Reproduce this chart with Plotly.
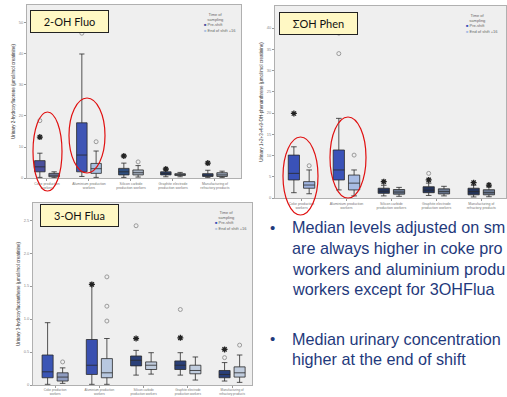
import plotly.graph_objects as go

W, H = 507, 397

CATEGORIES = ["Coke production<br>workers", "Aluminium production<br>workers",
              "Silicon carbide<br>production workers", "Graphite electrode<br>production workers",
              "Manufacturing of<br>refractory products"]
SERIES = ["Pre-shift", "End of shift +16"]

# ---- Panel 1 : 2-OH Fluo ----
F_PRE_Q1 = [0.20, 0.20, 0.10, 0.10, 0.05]
F_PRE_MED = [0.36, 0.74, 0.20, 0.15, 0.09]
F_PRE_Q3 = [0.56, 1.78, 0.31, 0.20, 0.14]
F_PRE_LO = [0.02, 0.05, 0.02, 0.04, 0.02]
F_PRE_HI = [0.80, 4.00, 0.48, 0.26, 0.25]
F_POST_Q1 = [0.04, 0.15, 0.10, 0.08, 0.05]
F_POST_MED = [0.09, 0.30, 0.17, 0.11, 0.10]
F_POST_Q3 = [0.15, 0.47, 0.26, 0.14, 0.17]
F_POST_LO = [0.01, 0.02, 0.03, 0.04, 0.02]
F_POST_HI = [0.20, 0.87, 0.40, 0.18, 0.22]
F_PRE_OUT = [[1.85], [4.67], [], [], []]
F_PRE_EXT = [[1.32], [], [0.71], [0.29], [0.48]]
F_POST_OUT = [[], [1.17], [0.52], [], []]
F_POST_EXT = [[], [], [], [], []]
F_TICKS = [0, 1, 2, 3, 4, 5]
F_TICKTEXT = ["0", "10", "20", "30", "40", "50"]

# ---- Panel 2 : sum OH Phen ----
P_PRE_Q1 = [0.85, 0.85, 0.22, 0.25, 0.15]
P_PRE_MED = [1.16, 1.32, 0.32, 0.37, 0.30]
P_PRE_Q3 = [2.02, 2.26, 0.46, 0.53, 0.46]
P_PRE_LO = [0.25, 0.38, 0.10, 0.12, 0.05]
P_PRE_HI = [2.41, 3.75, 0.60, 0.70, 0.60]
P_POST_Q1 = [0.46, 0.38, 0.18, 0.19, 0.15]
P_POST_MED = [0.61, 0.70, 0.28, 0.30, 0.25]
P_POST_Q3 = [0.77, 1.08, 0.40, 0.43, 0.39]
P_POST_LO = [0.20, 0.10, 0.08, 0.10, 0.06]
P_POST_HI = [1.32, 1.32, 0.50, 0.55, 0.52]
P_PRE_OUT = [[], [6.8, 7.76], [], [1.16], []]
P_PRE_EXT = [[3.98], [], [0.77], [0.85], [0.72]]
P_POST_OUT = [[1.52], [2.02], [], [], []]
P_POST_EXT = [[], [], [], [], [0.61]]
P_TICKS = [0, 1, 2, 3, 4, 5, 6, 7, 8]
P_TICKTEXT = ["0", "5", "10", "15", "20", "25", "30", "35", "40"]

# ---- Panel 3 : 3-OH Flua ----
A_PRE_Q1 = [0.22, 0.32, 0.58, 0.47, 0.22]
A_PRE_MED = [0.40, 0.60, 0.75, 0.60, 0.32]
A_PRE_Q3 = [0.91, 1.38, 0.88, 0.73, 0.44]
A_PRE_LO = [0.02, 0.02, 0.30, 0.30, 0.12]
A_PRE_HI = [1.89, 3.05, 1.05, 0.98, 0.68]
A_POST_Q1 = [0.12, 0.22, 0.47, 0.34, 0.24]
A_POST_MED = [0.24, 0.37, 0.60, 0.44, 0.37]
A_POST_Q3 = [0.37, 0.80, 0.70, 0.60, 0.55]
A_POST_LO = [0.05, 0.02, 0.33, 0.15, 0.08]
A_POST_HI = [0.52, 1.41, 0.98, 0.85, 0.91]
A_PRE_OUT = [[], [], [4.83], [2.29], [0.83]]
A_PRE_EXT = [[], [3.05], [1.41], [1.43], [1.08]]
A_POST_OUT = [[0.70], [1.94, 2.39, 3.28], [], [], [1.21]]
A_POST_EXT = [[], [], [], [], []]
A_TICKS = [0, 1, 2, 3, 4, 5]
A_TICKTEXT = ["0", "0.5", "1.0", "1.5", "2.0", "2.5"]

TITLES = ["2-OH Fluo", "ΣOH Phen", "3-OH Flua"]
YTITLES = ["Urinary 2-hydroxyfluorene (µmol/mol creatinine)",
           "Urinary 1+2+3+4+9-OH-phenanthrene (µmol/mol creatinine)",
           "Urinary 3-hydroxyfluoranthene (µmol/mol creatinine)"]
# slide text as visible in the picture (it runs off the right edge there)
BULLET1 = ["Median levels adjusted on sm",
           "are always higher in coke pro",
           "workers and aluminium produ",
           "workers except for 3OHFlua"]
BULLET2 = ["Median urinary concentration",
           "higher at the end of shift"]

# ---------------- styling ----------------
PRE_COLORS = [["#4a4f9c", "#3f55b5", "#2f4f80", "#2c4270", "#2c4270"],
              ["#3a52b8", "#3a52b8", "#24345a", "#24345a", "#24345a"],
              ["#3a55b5", "#3a50b0", "#2a3f78", "#2a3f78", "#2a3f78"]]
POST_COLORS = [["#7d86a8", "#a8c0e0", "#a8b4c4", "#98a4b8", "#98a4b8"],
               ["#a0b4e0", "#a8bce4", "#6a7890", "#6a7890", "#6a7890"],
               ["#8f9cc0", "#b8c8e0", "#c0ccdd", "#c0ccdd", "#c0ccdd"]]
OFF, BW = 0.17, 0.25
TXT_COLOR = "#1f3a7c"


def X(px):
    return px / W


def Y(py):
    return 1 - py / H


panels = [
    dict(pre=(F_PRE_Q1, F_PRE_MED, F_PRE_Q3, F_PRE_LO, F_PRE_HI),
         post=(F_POST_Q1, F_POST_MED, F_POST_Q3, F_POST_LO, F_POST_HI),
         pre_out=F_PRE_OUT, pre_ext=F_PRE_EXT, post_out=F_POST_OUT, post_ext=F_POST_EXT,
         ticks=F_TICKS, ticktext=F_TICKTEXT, labsize=3.5,
         xd=(27, 241), yd=(5, 178), xr=(-0.476, 4.62), yr=(0, 5.58)),
    dict(pre=(P_PRE_Q1, P_PRE_MED, P_PRE_Q3, P_PRE_LO, P_PRE_HI),
         post=(P_POST_Q1, P_POST_MED, P_POST_Q3, P_POST_LO, P_POST_HI),
         pre_out=P_PRE_OUT, pre_ext=P_PRE_EXT, post_out=P_POST_OUT, post_ext=P_POST_EXT,
         ticks=P_TICKS, ticktext=P_TICKTEXT, labsize=3.5,
         xd=(275, 506), yd=(6, 198), xr=(-0.59, 4.55), yr=(0, 9.04)),
    dict(pre=(A_PRE_Q1, A_PRE_MED, A_PRE_Q3, A_PRE_LO, A_PRE_HI),
         post=(A_POST_Q1, A_POST_MED, A_POST_Q3, A_POST_LO, A_POST_HI),
         pre_out=A_PRE_OUT, pre_ext=A_PRE_EXT, post_out=A_POST_OUT, post_ext=A_POST_EXT,
         ticks=A_TICKS, ticktext=A_TICKTEXT, labsize=3.1,
         xd=(33, 252), yd=(203, 385), xr=(-0.5, 4.45), yr=(0, 5.52)),
]

fig = go.Figure()
layout = dict(width=W, height=H, margin=dict(l=0, r=0, t=0, b=0, autoexpand=False),
              paper_bgcolor="white", plot_bgcolor="#efefef", showlegend=False)

annotations = []
shapes = []

for p, pan in enumerate(panels):
    sfx = "" if p == 0 else str(p + 1)
    xa, ya = "x" + sfx, "y" + sfx
    for s, (stats, outs, exts, colors) in enumerate([
            (pan["pre"], pan["pre_out"], pan["pre_ext"], PRE_COLORS[p]),
            (pan["post"], pan["post_out"], pan["post_ext"], POST_COLORS[p])]):
        q1, med, q3, lo, hi = stats
        for i in range(len(CATEGORIES)):
            pos = i + (-OFF if s == 0 else OFF)
            fig.add_trace(go.Box(
                x=[pos], q1=[q1[i]], median=[med[i]], q3=[q3[i]],
                lowerfence=[lo[i]], upperfence=[hi[i]],
                width=BW, whiskerwidth=0.5, boxpoints=False,
                fillcolor=colors[i], line=dict(color="#2a2a2a", width=0.8),
                name=SERIES[s], xaxis=xa, yaxis=ya, hoverinfo="skip"))
            if outs[i]:
                fig.add_trace(go.Scatter(
                    x=[pos] * len(outs[i]), y=outs[i], mode="markers",
                    marker=dict(symbol="circle-open", size=4, color="#9a9a9a",
                                line=dict(width=1)),
                    xaxis=xa, yaxis=ya, hoverinfo="skip"))
            if exts[i]:
                fig.add_trace(go.Scatter(
                    x=[pos] * len(exts[i]), y=exts[i], mode="markers",
                    marker=dict(symbol="asterisk-open", size=5, color="#222",
                                line=dict(width=1.3, color="#222")),
                    xaxis=xa, yaxis=ya, hoverinfo="skip"))

    x0, x1 = pan["xd"]
    y0, y1 = pan["yd"]
    axline = dict(showline=True, mirror=True, linecolor="#b0b0b0", linewidth=1,
                  showgrid=False, zeroline=False, automargin=False)
    layout["xaxis" + sfx] = dict(
        domain=[X(x0), X(x1)], range=list(pan["xr"]), anchor=ya,
        tickvals=list(range(len(CATEGORIES))), ticktext=CATEGORIES, tickangle=0,
        tickfont=dict(size=pan["labsize"], color="#777", family="Liberation Sans"),
        ticks="outside", ticklen=1.5, tickcolor="#999", **axline)
    layout["yaxis" + sfx] = dict(
        domain=[Y(y1), Y(y0)], range=list(pan["yr"]), anchor=xa,
        tickvals=pan["ticks"], ticktext=pan["ticktext"],
        tickfont=dict(size=4, color="#888", family="Liberation Sans"),
        ticks="outside", ticklen=2, tickcolor="#999",
        title=dict(text=YTITLES[p], font=dict(size=4.5, color="#333",
                                              family="Liberation Sans"), standoff=3),
        **axline)

    # legend (text-based, tiny like the original)
    pre_c = PRE_COLORS[p][0]
    post_c = POST_COLORS[p][1]
    annotations.append(dict(
        xref="paper", yref="paper", x=X(min(x1 - 3, 500)), y=Y(y0 + 5),
        xanchor="right", yanchor="top", showarrow=False, align="left",
        text=("&nbsp;&nbsp;&nbsp;&nbsp;Time of<br>&nbsp;&nbsp;&nbsp;sampling<br>"
              f"<span style='color:{pre_c}'>■</span> {SERIES[0]}<br>"
              f"<span style='color:{post_c}'>■</span> {SERIES[1]}"),
        font=dict(size=4, color="#666", family="Liberation Sans")))

# title boxes
title_boxes = [(69.5, 21.5), (318.5, 23.0), (79.0, 215.5)]
for t, (cx, cy) in zip(TITLES, title_boxes):
    annotations.append(dict(
        xref="paper", yref="paper", x=X(cx), y=Y(cy), xanchor="center", yanchor="middle",
        showarrow=False, text=t, width=75, height=19, borderpad=1,
        bgcolor="#fff8c4", bordercolor="#222", borderwidth=1,
        font=dict(size=11, color="#111", family="Lato")))

# red ellipses
ellipses = [(33, 112, 62, 191), (69, 98, 105, 173), (283, 137, 318, 215), (330, 117, 366, 198)]
for (a, b, c, d) in ellipses:
    shapes.append(dict(type="circle", xref="paper", yref="paper",
                       x0=X(a), x1=X(c), y0=Y(d), y1=Y(b),
                       line=dict(color="#e01010", width=1.2)))

# bullet text
line_ys1 = [227.5, 248.0, 268.5, 289.0]
line_ys2 = [338.5, 359.0]
for lines, ys in [(BULLET1, line_ys1), (BULLET2, line_ys2)]:
    annotations.append(dict(xref="paper", yref="paper", x=X(268), y=Y(ys[0]),
                            xanchor="left", yanchor="middle", showarrow=False, text="•",
                            font=dict(size=15, color=TXT_COLOR, family="Liberation Sans")))
    for ln, yy in zip(lines, ys):
        annotations.append(dict(xref="paper", yref="paper", x=X(289.5), y=Y(yy),
                                xanchor="left", yanchor="middle", showarrow=False, text=ln,
                                font=dict(size=16.2, color=TXT_COLOR,
                                          family="Liberation Sans")))

layout["annotations"] = annotations
layout["shapes"] = shapes
fig.update_layout(**layout)
fig.write_html("out.html", config={"displayModeBar": False},
               post_script="document.body.style.margin='0';")
